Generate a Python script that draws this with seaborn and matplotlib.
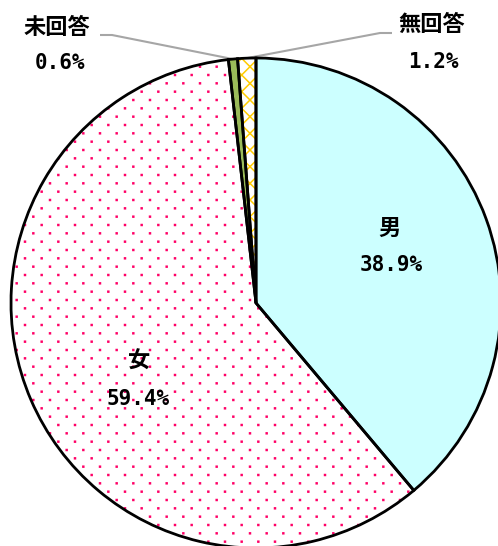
import numpy as np
import matplotlib
matplotlib.use("Agg")
import matplotlib.pyplot as plt
import matplotlib.hatch as mhatch
from matplotlib.path import Path
import seaborn as sns

# ---- data ----
categories = ["男", "女", "未回答", "無回答"]
values = [38.9, 59.4, 0.6, 1.2]
pct_labels = ["38.9%", "59.4%", "0.6%", "1.2%"]

face_colors = ["#CCFFFF", "#FFFFFF", "#9BBB59", "#FFFFFF"]
hatch_colors = [None, "#FF0066", None, "#FFCC00"]
hatches = [None, ".", None, "xx"]
hatch_lw = [None, 0.9, None, 1.1]

sns.set_theme(style="white")
plt.rcParams["font.family"] = ["Noto Sans CJK JP", "DejaVu Sans"]
plt.rcParams["hatch.linewidth"] = 0.9


# staggered dot pattern (6 columns x 12 rows per hatch unit)
class StaggeredDots(mhatch.HatchPatternBase):
    def __init__(self, hatch, density):
        self.centers = []
        if hatch.count(".") > 0:
            ncols, nrows = 6, 12
            for r in range(nrows + 1):
                y = r / nrows
                if r % 2 == 0:
                    xs = np.arange(ncols + 1) / ncols
                else:
                    xs = (np.arange(ncols) + 0.5) / ncols
                for x in xs:
                    self.centers.append((x, y))
        self.num_vertices = len(self.centers) * 5

    def set_vertices_and_codes(self, vertices, codes):
        s = 0.006
        sq = np.array([[-s, -s], [s, -s], [s, s], [-s, s], [-s, -s]])
        cd = [Path.MOVETO, Path.LINETO, Path.LINETO, Path.LINETO, Path.CLOSEPOLY]
        for i, (x, y) in enumerate(self.centers):
            vertices[i * 5:(i + 1) * 5] = sq + np.array([x, y])
            codes[i * 5:(i + 1) * 5] = cd


mhatch._hatch_types = [StaggeredDots if t is mhatch.SmallFilledCircles else t
                       for t in mhatch._hatch_types]

W, H = 498, 546
fig = plt.figure(figsize=(W / 100, H / 100), dpi=100)
ax = fig.add_axes([0, 0, 1, 1])

# pixel geometry of the pie
cx, cy, R = 256, 303, 245


def px(x, y):
    return (x - cx) / R, (cy - y) / R


# fill layer (with hatches)
wedges, _ = ax.pie(values, startangle=90, counterclock=False, radius=1,
                   colors=face_colors, wedgeprops=dict(linewidth=0))
for w, hc, h, hl in zip(wedges, hatch_colors, hatches, hatch_lw):
    if h is not None:
        w.set_hatch(h)
        w.set_edgecolor(hc)
        w.set_linewidth(0)
        if hasattr(w, "set_hatch_linewidth"):
            w.set_hatch_linewidth(hl)

# outline layer
ax.pie(values, startangle=90, counterclock=False, radius=1,
       wedgeprops=dict(fill=False, edgecolor="black", linewidth=2.0))

ax.set_aspect("auto")
ax.set_xlim(px(0, 0)[0], px(W, 0)[0])
ax.set_ylim(px(0, H)[1], px(0, 0)[1])
ax.set_axis_off()

# leader lines for small slices
total = sum(values)
cum = np.cumsum([0] + values)
mid_angles = [90 - (cum[i] + values[i] / 2) / total * 360 for i in range(len(values))]


def edge_point(i):
    a = np.deg2rad(mid_angles[i])
    return np.cos(a), np.sin(a)


lc = "#A6A6A6"
e2 = edge_point(2)
p1, p2 = px(112, 35), px(100, 35)
ax.plot([e2[0], p1[0], p2[0]], [e2[1], p1[1], p2[1]], color=lc, lw=1.5,
        solid_capstyle="butt", zorder=0.5)
e3 = edge_point(3)
q1, q2 = px(380, 33), px(392, 33)
ax.plot([e3[0], q1[0], q2[0]], [e3[1], q1[1], q2[1]], color=lc, lw=1.5,
        solid_capstyle="butt", zorder=0.5)

# labels
name_pos = [(389, 228), (139, 361), (57, 27), (432, 24)]
pct_pos = [(391, 265), (138, 399), (60, 63), (433, 62)]
for name, pct, npos, ppos in zip(categories, pct_labels, name_pos, pct_pos):
    x, y = px(*npos)
    ax.text(x, y, name, ha="center", va="center", fontsize=16,
            fontweight="bold", color="black")
    x, y = px(*ppos)
    ax.text(x, y, pct, ha="center", va="center", fontsize=15,
            family=["DejaVu Sans Mono"], fontweight="bold", color="black")

fig.savefig("out.png", dpi=100)
